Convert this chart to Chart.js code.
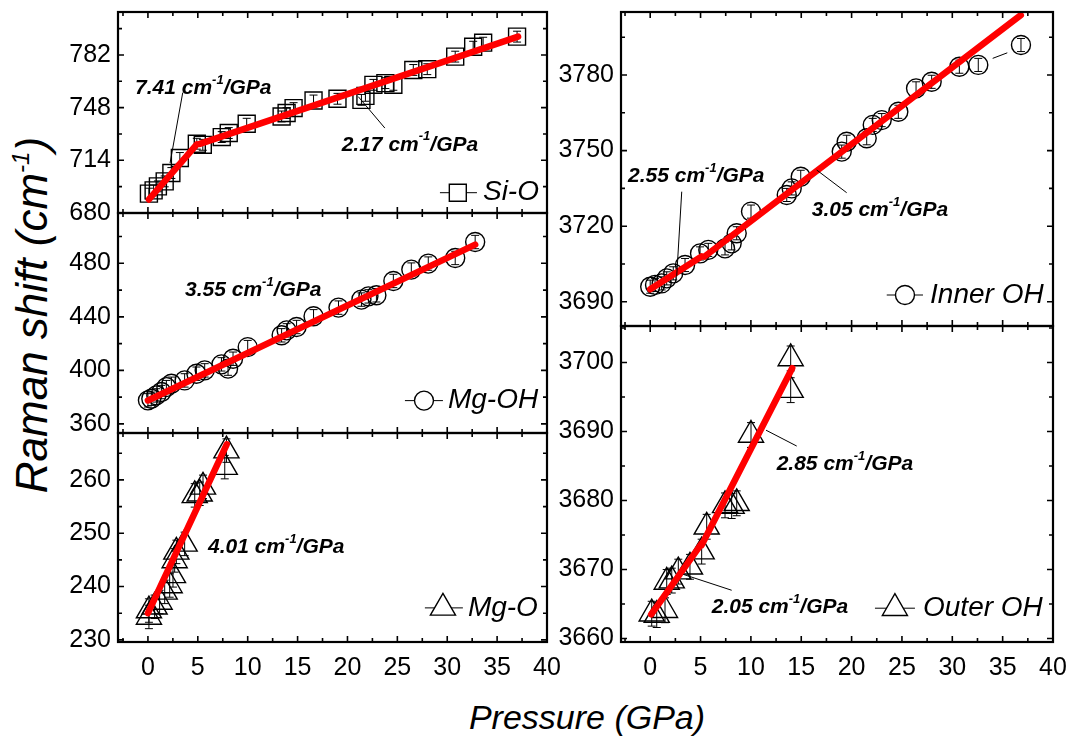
<!DOCTYPE html>
<html>
<head>
<meta charset="utf-8">
<title>Raman shift vs pressure</title>
<script src="https://cdn.jsdelivr.net/npm/chart.js@4.4.1/dist/chart.umd.min.js"></script>
<style>
  html, body { margin: 0; padding: 0; background: #fff; }
  #wrap { position: relative; width: 1067px; height: 740px; overflow: hidden; background: #fff; }
  #wrap canvas { position: absolute; }
  .axis-title { position: absolute; white-space: nowrap; font-family: "Liberation Sans", Arial, Helvetica, sans-serif; font-style: italic; color: #000; line-height: 1; }
  .axis-title sup { font-size: 55%; vertical-align: 0.75em; line-height: 0; }
  #ytitle { left: 32px; top: 315px; font-size: 44px; transform: translate(-50%, -50%) rotate(-90deg); }
  #xtitle { left: 587px; top: 717px; font-size: 34px; transform: translate(-50%, -50%); }
</style>
</head>
<body>
<div id="wrap">
  <div class="axis-title" id="ytitle">Raman shift (cm<sup>-1</sup>)</div>
  <div class="axis-title" id="xtitle">Pressure (GPa)</div>
</div>
<script>
// ---- tick labels ----
const xTickValues = [0, 5, 10, 15, 20, 25, 30, 35, 40];
const yTicksSiO = [680, 714, 748, 782];
const yTicksMgOH = [360, 400, 440, 480];
const yTicksMgO = [230, 240, 250, 260];
const yTicksInnerOH = [3690, 3720, 3750, 3780];
const yTicksOuterOH = [3660, 3670, 3680, 3690, 3700];

// ---- Si-O band ----
const pressureSiO = [0.1, 0.57, 1.0, 1.68, 2.35, 3.2, 4.9, 5.5, 7.4, 8.1, 9.9, 13.4, 13.9, 14.6, 16.6, 19.0, 21.4, 21.8, 22.6, 23.8, 24.6, 26.6, 28.0, 30.8, 32.6, 33.6, 37.0];
const shiftSiO = [692.5, 694.6, 697.2, 700.4, 705.8, 715.5, 724.7, 724.0, 729.0, 731.6, 737.6, 742.3, 744.5, 747.7, 752.6, 753.7, 753.0, 755.6, 762.7, 763.8, 762.7, 772.3, 772.8, 780.9, 787.3, 789.9, 793.8];
const errSiO = 3.5;
const slopeSiO = [7.41, 2.17];
const interceptSiO = [688.0, 713.3];
const fitFromSiO = [0.1, 5.2];
const fitToSiO = [4.9, 37.1];

// ---- Mg-OH band ----
const pressureMgOH = [0, 0.34, 0.84, 1.35, 1.85, 2.35, 3.68, 4.86, 5.69, 7.37, 8.03, 8.53, 10.0, 13.4, 13.9, 14.9, 16.6, 19.1, 21.4, 22.1, 22.9, 24.6, 26.4, 28.1, 30.8, 32.8];
const shiftMgOH = [377.6, 378.8, 381.3, 383.8, 387.5, 390.0, 392.5, 397.5, 400.0, 404.5, 401.3, 408.7, 417.4, 426.2, 429.9, 432.4, 440.4, 446.9, 452.9, 455.3, 456.1, 466.8, 475.3, 479.8, 484.0, 495.9];
const errMgOH = 5;
const slopeMgOH = [3.55];
const interceptMgOH = [377.5];
const fitFromMgOH = [0];
const fitToMgOH = [32.8];

// ---- Mg-O band ----
const pressureMgO = [0.1, 0.1, 0.67, 1.17, 1.68, 2.18, 2.51, 2.68, 2.85, 3.68, 4.69, 5.19, 5.52, 7.7, 7.87];
const shiftMgO = [234.3, 235.5, 236.2, 237.1, 239.0, 240.2, 242.1, 244.9, 246.5, 248.0, 257.1, 257.4, 258.7, 262.4, 265.5];
const errMgO = 2.2;
const slopeMgO = [4.01];
const interceptMgO = [235.0];
const fitFromMgO = [0];
const fitToMgO = [7.9];

// ---- Inner OH band ----
const pressureInnerOH = [0, 0.48, 1.14, 1.64, 2.29, 3.46, 4.95, 5.77, 7.43, 8.09, 8.59, 10.01, 13.56, 14.05, 14.95, 19.02, 19.51, 21.5, 22.1, 22.99, 24.64, 26.4, 27.95, 30.7, 32.58, 36.82];
const shiftInnerOH = [3696.0, 3696.7, 3697.3, 3699.3, 3701.3, 3704.6, 3709.2, 3710.6, 3711.2, 3713.2, 3717.2, 3725.8, 3732.4, 3735.0, 3739.6, 3749.6, 3753.5, 3754.9, 3760.2, 3762.1, 3765.4, 3774.7, 3777.3, 3783.3, 3784.0, 3791.9];
const errInnerOH = 2.6;
const slopeInnerOH = [2.55, 3.05];
const interceptInnerOH = [3695.0, 3691.5];
const fitFromInnerOH = [0, 5.4];
const fitToInnerOH = [5.1, 36.8];

// ---- Outer OH band ----
const pressureOuterOH = [0.15, 0.65, 1.47, 1.64, 2.14, 2.79, 3.95, 5.11, 5.61, 7.43, 8.09, 8.59, 10.01, 13.95, 13.95];
const shiftOuterOH = [3663.6, 3663.4, 3664.1, 3668.2, 3668.4, 3669.7, 3670.4, 3672.6, 3676.2, 3679.3, 3679.2, 3679.6, 3689.5, 3696.0, 3700.6];
const errOuterOH = 1.8;
const slopeOuterOH = [2.05, 2.85];
const interceptOuterOH = [3663.3, 3659.0];
const fitFromOuterOH = [0.1, 5.1];
const fitToOuterOH = [5.1, 14.1];

const FONT = '"Liberation Sans", Arial, Helvetica, sans-serif';
Chart.defaults.font.family = FONT;
Chart.defaults.color = '#000';

// Panel layout: plot-box edges in page pixels, axis ranges, markers and text placement (data units)
const panels = [
  {
    name: 'Si-O', box: { l: 118, t: 12, r: 547, b: 213 }, xRange: [-3, 40], yRange: [680, 809.7],
    yTicks: yTicksSiO, yMinorStep: 17, bottom: false,
    px: pressureSiO, py: shiftSiO, err: errSiO, style: 'rect', radius: 12,
    slope: slopeSiO, icpt: interceptSiO, from: fitFromSiO, to: fitToSiO,
    notes: [
      { x: -1.29, y: 760.7, lead: [[3.49, 757.7], [2.22, 712.3]] },
      { x: 19.42, y: 724.0, lead: [[23.75, 734.8], [21.08, 755.1]] }
    ],
    key: { x1: 29.27, x2: 32.98, xm: 31.06, xt: 33.58, y: 693.1 }
  },
  {
    name: 'Mg-OH', box: { l: 118, t: 213, r: 547, b: 433 }, xRange: [-3, 40], yRange: [353.2, 517.6],
    yTicks: yTicksMgOH, yMinorStep: 20, bottom: false,
    px: pressureMgOH, py: shiftMgOH, err: errMgOH, style: 'circle', radius: 9.5,
    slope: slopeMgOH, icpt: interceptMgOH, from: fitFromMgOH, to: fitToMgOH,
    notes: [ { x: 3.72, y: 460.1 } ],
    key: { x1: 25.76, x2: 29.57, xm: 27.67, xt: 30.07, y: 377.4 }
  },
  {
    name: 'Mg-O', box: { l: 118, t: 433, r: 547, b: 642 }, xRange: [-3, 40], yRange: [229.6, 268.8],
    yTicks: yTicksMgO, yMinorStep: 5, bottom: true,
    px: pressureMgO, py: shiftMgO, err: errMgO, style: 'triangle', radius: 14.5,
    slope: slopeMgO, icpt: interceptMgO, from: fitFromMgO, to: fitToMgO,
    notes: [ { x: 6.02, y: 247.4 } ],
    key: { x1: 27.76, x2: 31.57, xm: 29.57, xt: 32.07, y: 236.0 }
  },
  {
    name: 'Inner OH', box: { l: 621, t: 12, r: 1053, b: 326 }, xRange: [-2.9, 40], yRange: [3680.4, 3805],
    yTicks: yTicksInnerOH, yMinorStep: 15, bottom: false,
    px: pressureInnerOH, py: shiftInnerOH, err: errInnerOH, style: 'circle', radius: 9.5,
    slope: slopeInnerOH, icpt: interceptInnerOH, from: fitFromInnerOH, to: fitToInnerOH,
    notes: [
      { x: -2.2, y: 3739.9, lead: [[3.13, 3733.7], [2.63, 3700.0]] },
      { x: 16.04, y: 3726.4, lead: [[19.51, 3733.3], [16.53, 3742.3]] }
    ],
    extraLines: [ [[34.01, 3786.6], [35.46, 3788.8]] ],
    key: { x1: 23.49, x2: 27.09, xm: 25.3, xt: 27.79, y: 3692.7 }
  },
  {
    name: 'Outer OH', box: { l: 621, t: 326, r: 1053, b: 642 }, xRange: [-2.9, 40], yRange: [3659.5, 3705.3],
    yTicks: yTicksOuterOH, yMinorStep: 5, bottom: true,
    px: pressureOuterOH, py: shiftOuterOH, err: errOuterOH, style: 'triangle', radius: 14.5,
    slope: slopeOuterOH, icpt: interceptOuterOH, from: fitFromOuterOH, to: fitToOuterOH,
    notes: [
      { x: 6.11, y: 3664.5, lead: [[8.09, 3667.0], [3.29, 3669.3]], fit: 0 },
      { x: 12.56, y: 3685.2, lead: [[14.55, 3687.9], [11.5, 3690.2]], fit: 1 }
    ],
    key: { x1: 22.32, x2: 26.29, xm: 24.3, xt: 27.09, y: 3664.4 }
  }
];

function drawShape(ctx, style, r, X, Y) {
  ctx.beginPath();
  if (style === 'rect') {
    const s = Math.SQRT1_2 * r;
    ctx.rect(X - s, Y - s, 2 * s, 2 * s);
  } else if (style === 'circle') {
    ctx.arc(X, Y, r, 0, Math.PI * 2);
  } else {
    const a = Math.PI * 2 / 3;
    ctx.moveTo(X, Y - r);
    ctx.lineTo(X + Math.sin(a) * r, Y - Math.cos(a) * r);
    ctx.lineTo(X - Math.sin(a) * r, Y - Math.cos(a) * r);
    ctx.closePath();
  }
  ctx.fill();
  ctx.stroke();
}

function slopeText(ctx, slope, X, Y) {
  const big = 'italic bold 21px ' + FONT;
  const small = 'italic bold 13px ' + FONT;
  ctx.textAlign = 'left';
  ctx.textBaseline = 'middle';
  ctx.fillStyle = '#000';
  ctx.font = big;
  const a = slope.toFixed(2) + ' cm';
  ctx.fillText(a, X, Y);
  let w = ctx.measureText(a).width;
  ctx.font = small;
  ctx.fillText('-1', X + w, Y - 8);
  w += ctx.measureText('-1').width;
  ctx.font = big;
  ctx.fillText('/GPa', X + w, Y);
}

function minorValues(lo, hi, majors, step) {
  const out = [];
  const start = majors[0] - Math.ceil((majors[0] - lo) / step) * step;
  for (let v = start; v <= hi + 1e-9; v += step) {
    if (v >= lo - 1e-9 && !majors.some(m => Math.abs(m - v) < 1e-6)) out.push(v);
  }
  return out;
}

const panelDecor = {
  id: 'panelDecor',
  beforeDatasetsDraw(chart, args, o) {
    const { ctx } = chart;
    const xs = chart.scales.x, ys = chart.scales.y;
    ctx.save();
    ctx.strokeStyle = '#000';
    ctx.lineWidth = 1;
    o.px.forEach((p, i) => {
      const X = xs.getPixelForValue(p);
      const y1 = ys.getPixelForValue(o.py[i] - o.err);
      const y2 = ys.getPixelForValue(o.py[i] + o.err);
      ctx.beginPath();
      ctx.moveTo(X, y1); ctx.lineTo(X, y2);
      ctx.moveTo(X - 4, y1); ctx.lineTo(X + 4, y1);
      ctx.moveTo(X - 4, y2); ctx.lineTo(X + 4, y2);
      ctx.stroke();
    });
    ctx.restore();
  },
  afterDraw(chart, args, o) {
    const { ctx, chartArea: a } = chart;
    const xs = chart.scales.x, ys = chart.scales.y;
    ctx.save();
    ctx.strokeStyle = '#000';

    // inward ticks on all four sides
    ctx.lineWidth = 1.6;
    const xMin = minorValues(xs.min, xs.max, xTickValues, 2.5);
    const yMaj = o.yTicks;
    const tick = (v, len, horiz) => {
      ctx.beginPath();
      if (horiz) {
        const X = xs.getPixelForValue(v);
        ctx.moveTo(X, a.bottom); ctx.lineTo(X, a.bottom - len);
        ctx.moveTo(X, a.top); ctx.lineTo(X, a.top + len);
      } else {
        const Y = ys.getPixelForValue(v);
        ctx.moveTo(a.left, Y); ctx.lineTo(a.left + len, Y);
        ctx.moveTo(a.right, Y); ctx.lineTo(a.right - len, Y);
      }
      ctx.stroke();
    };
    xTickValues.forEach(v => { if (v >= xs.min && v <= xs.max) tick(v, 6, true); });
    xMin.forEach(v => tick(v, 4, true));
    yMaj.forEach(v => { if (v >= ys.min && v <= ys.max) tick(v, 6, false); });
    minorValues(ys.min, ys.max, yMaj, o.yMinorStep).forEach(v => tick(v, 4, false));

    // frame
    ctx.lineWidth = 2.2;
    ctx.strokeRect(a.left, a.top, a.right - a.left, a.bottom - a.top);

    // leader lines
    ctx.lineWidth = 1;
    const segs = [];
    o.notes.forEach(n => { if (n.lead) segs.push(n.lead); });
    (o.extraLines || []).forEach(s => segs.push(s));
    segs.forEach(s => {
      ctx.beginPath();
      ctx.moveTo(xs.getPixelForValue(s[0][0]), ys.getPixelForValue(s[0][1]));
      ctx.lineTo(xs.getPixelForValue(s[1][0]), ys.getPixelForValue(s[1][1]));
      ctx.stroke();
    });

    // slope labels
    o.notes.forEach((n, i) => {
      const k = n.fit !== undefined ? n.fit : i;
      slopeText(ctx, o.slope[k], xs.getPixelForValue(n.x), ys.getPixelForValue(n.y));
    });

    // key: line, marker, name
    const k = o.key;
    const KY = ys.getPixelForValue(k.y);
    ctx.lineWidth = 1;
    ctx.beginPath();
    ctx.moveTo(xs.getPixelForValue(k.x1), KY);
    ctx.lineTo(xs.getPixelForValue(k.x2), KY);
    ctx.stroke();
    ctx.fillStyle = '#fff';
    ctx.lineWidth = 1.4;
    drawShape(ctx, o.style, o.radius, xs.getPixelForValue(k.xm), KY);
    ctx.fillStyle = '#000';
    ctx.font = 'italic 28px ' + FONT;
    ctx.textAlign = 'left';
    ctx.textBaseline = 'middle';
    ctx.fillText(o.name, xs.getPixelForValue(k.xt), KY);
    ctx.restore();
  }
};

const wrap = document.getElementById('wrap');

panels.forEach(p => {
  const M = { l: 75, t: 30, r: 30, b: p.bottom ? 60 : 30 };
  const W = p.box.r - p.box.l + M.l + M.r;
  const H = p.box.b - p.box.t + M.t + M.b;
  const cv = document.createElement('canvas');
  cv.width = W; cv.height = H;
  cv.style.width = W + 'px'; cv.style.height = H + 'px';
  cv.style.left = (p.box.l - M.l) + 'px';
  cv.style.top = (p.box.t - M.t) + 'px';
  wrap.appendChild(cv);

  const fits = p.slope.map((s, i) => ({
    type: 'line',
    data: [ { x: p.from[i], y: p.icpt[i] + s * p.from[i] }, { x: p.to[i], y: p.icpt[i] + s * p.to[i] } ],
    borderColor: '#ff0000',
    borderWidth: 6.5,
    borderCapStyle: 'round',
    pointRadius: 0,
    tension: 0,
    clip: false,
    order: 0
  }));

  new Chart(cv, {
    type: 'scatter',
    data: {
      datasets: [
        ...fits,
        {
          type: 'scatter',
          label: p.name,
          data: p.px.map((x, i) => ({ x, y: p.py[i] })),
          pointStyle: p.style,
          pointRadius: p.radius,
          pointHoverRadius: p.radius,
          pointBorderColor: '#000',
          pointBackgroundColor: 'rgba(0,0,0,0)',
          pointBorderWidth: 1.4,
          clip: false,
          order: 1
        }
      ]
    },
    options: {
      responsive: false,
      animation: false,
      devicePixelRatio: 1,
      events: [],
      layout: { padding: { left: 0, top: M.t, right: M.r, bottom: p.bottom ? 0 : M.b } },
      plugins: {
        legend: { display: false },
        tooltip: { enabled: false },
        panelDecor: {
          px: p.px, py: p.py, err: p.err, yTicks: p.yTicks, yMinorStep: p.yMinorStep,
          notes: p.notes, extraLines: p.extraLines, slope: p.slope,
          key: p.key, style: p.style, radius: p.radius, name: p.name
        }
      },
      scales: {
        x: {
          type: 'linear',
          min: p.xRange[0], max: p.xRange[1],
          afterBuildTicks: s => { s.ticks = xTickValues.map(v => ({ value: v })); },
          afterFit: s => { s.height = p.bottom ? M.b : 0; },
          ticks: {
            display: p.bottom,
            autoSkip: false, maxRotation: 0, padding: 11,
            font: { size: 25, family: FONT },
            color: '#000',
            callback: v => String(v)
          },
          grid: { display: false, drawTicks: false },
          border: { display: false }
        },
        y: {
          type: 'linear',
          min: p.yRange[0], max: p.yRange[1],
          afterBuildTicks: s => { s.ticks = p.yTicks.map(v => ({ value: v })); },
          afterFit: s => { s.width = M.l; },
          ticks: {
            autoSkip: false, padding: 7,
            font: { size: 25, family: FONT },
            color: '#000',
            callback: v => String(v)
          },
          grid: { display: false, drawTicks: false },
          border: { display: false }
        }
      }
    },
    plugins: [panelDecor]
  });
});
</script>
</body>
</html>
